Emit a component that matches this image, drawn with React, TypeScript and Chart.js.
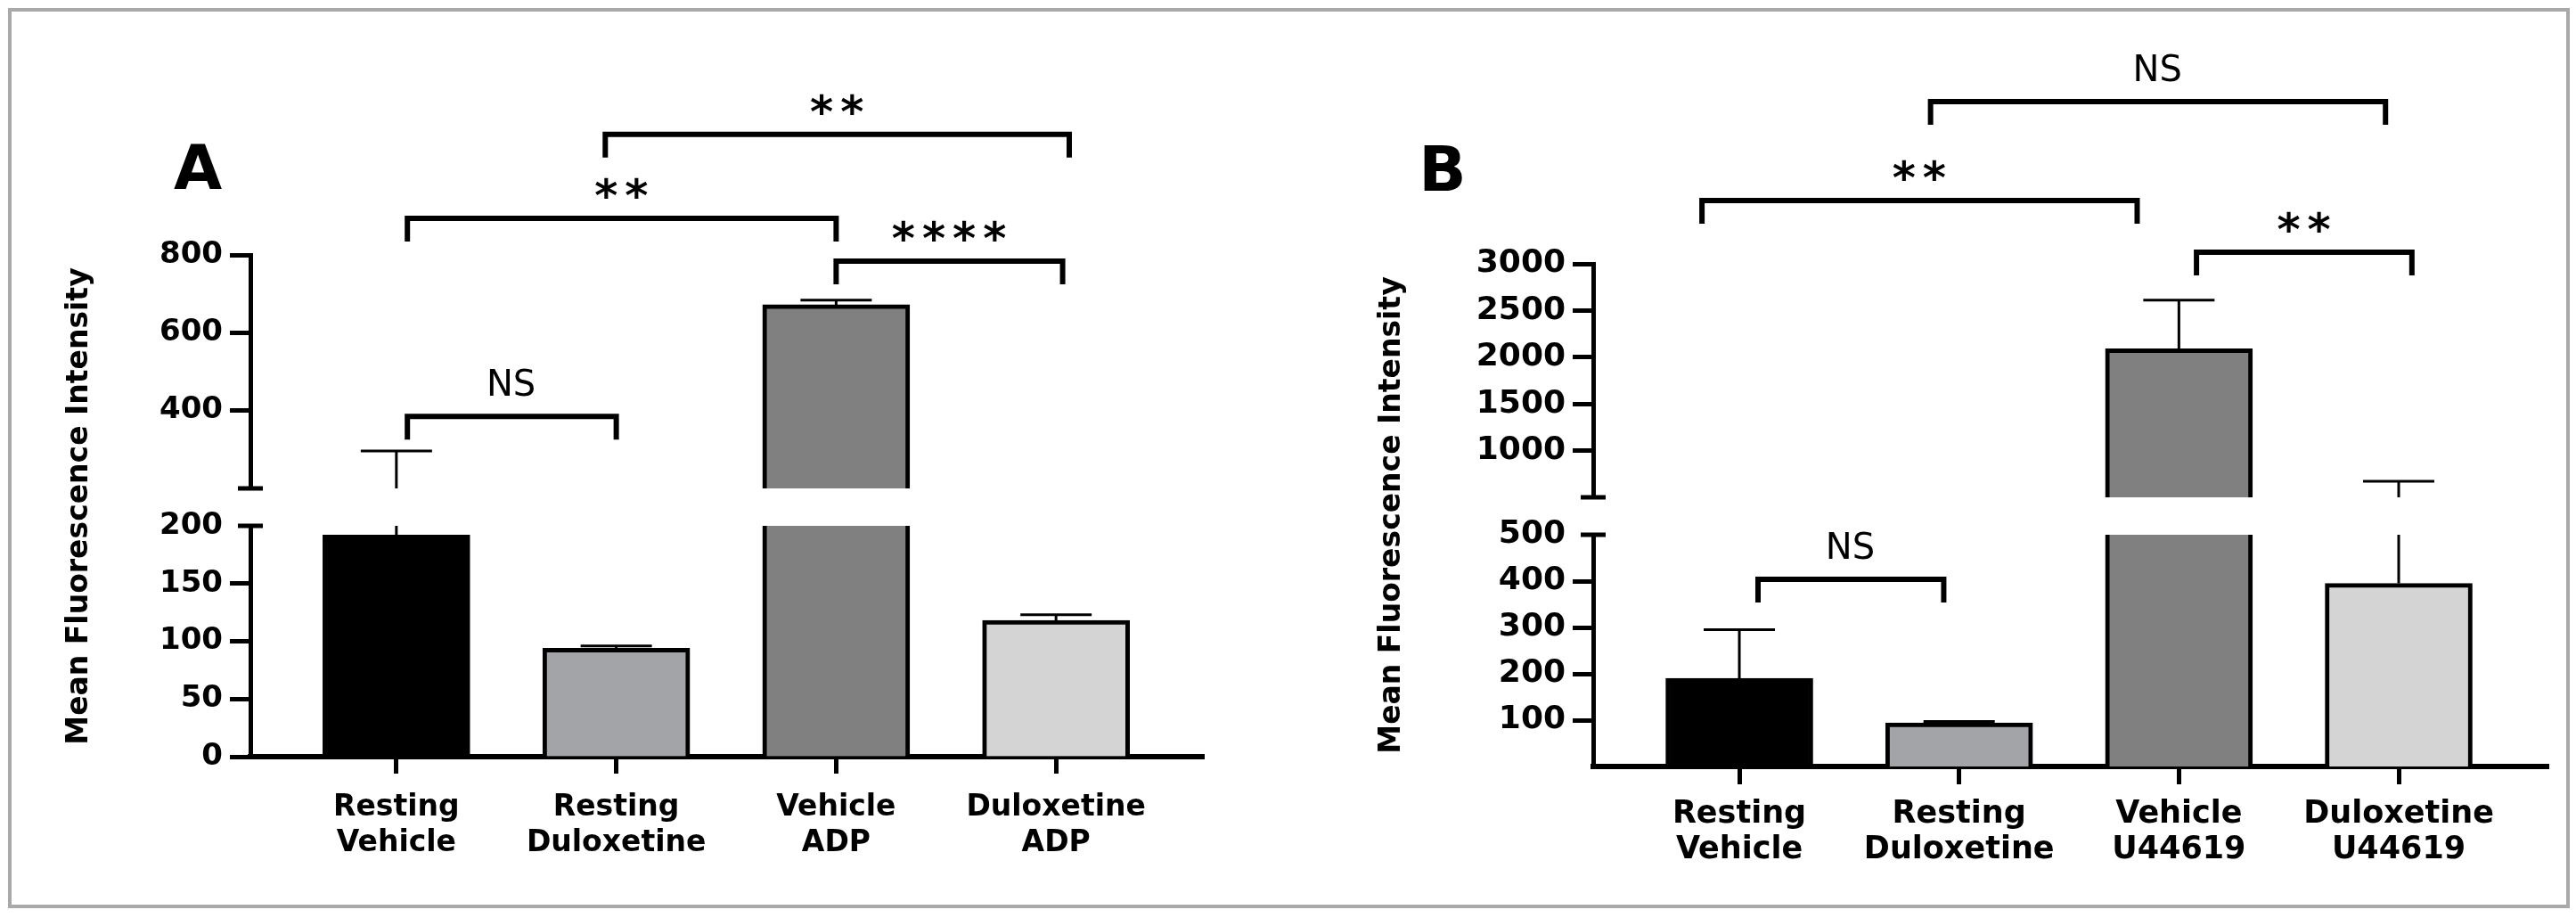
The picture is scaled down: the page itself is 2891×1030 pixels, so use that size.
import React, { useEffect, useRef } from 'react';
import { Chart, registerables } from 'chart.js';

Chart.register(...registerables);

const FONT = "'DejaVu Sans', 'Liberation Sans', Arial, sans-serif";
const PAGE_H = 1030;

// ---------------- Panel A data ----------------
const categoriesA: string[][] = [
  ['Resting', 'Vehicle'],
  ['Resting', 'Duloxetine'],
  ['Vehicle', 'ADP'],
  ['Duloxetine', 'ADP'],
];
const meanA = [192, 94, 672, 118];
const semA = [104, 2, 12, 5];
const lowerTicksA = [0, 50, 100, 150, 200];
const upperTicksA = [400, 600, 800];
const bracketLabelsA = ['**', '**', '****', 'NS'];
const bracketFromA = [0.95, 0.05, 2, 0.05];
const bracketToA = [3.06, 2, 3.03, 1];
const bracketLevelA = [1110, 894, 784, 385];
const bracketSegmentA = ['upper', 'upper', 'upper', 'upper'];

// ---------------- Panel B data ----------------
const categoriesB: string[][] = [
  ['Resting', 'Vehicle'],
  ['Resting', 'Duloxetine'],
  ['Vehicle', 'U44619'],
  ['Duloxetine', 'U44619'],
];
const meanB = [190, 94, 2090, 395];
const semB = [105, 3, 520, 277];
const lowerTicksB = [100, 200, 300, 400, 500];
const upperTicksB = [1000, 1500, 2000, 2500, 3000];
const bracketLabelsB = ['NS', '**', '**', 'NS'];
const bracketFromB = [0.87, -0.17, 2.08, 0.085];
const bracketToB = [2.94, 1.81, 3.06, 0.93];
const bracketLevelB = [4737, 3677, 3124, 404];
const bracketSegmentB = ['upper', 'upper', 'upper', 'lower'];

const barColors = ['#000000', '#a3a4a8', '#808080', '#d4d4d4'];
const yTitle = 'Mean Fluorescence Intensity';

// ---------------- layout (page pixels) ----------------
const layoutA = {
  letter: 'A', letterX: 222, letterY: 186, titleX: 88, titleY: 568,
  canvasLeft: 0, canvasWidth: 1440, axisLeft: 281, plotRight: 1351, yAxisWidth: 120,
  xMin: -0.664, xMax: 3.672,
  upper: { min: 200, max: 800, top: 286, bottom: 548 },
  lower: { min: 0, max: 200, top: 590, bottom: 849 },
  yFont: 34, xFont: 33, xTickLen: 19, xPad: 18,
};
const layoutB = {
  letter: 'B', letterX: 1619, letterY: 188, titleX: 1561, titleY: 578,
  canvasLeft: 1440, canvasWidth: 1451, axisLeft: 1788, plotRight: 2860, yAxisWidth: 140,
  xMin: -0.665, xMax: 3.681,
  upper: { min: 500, max: 3000, top: 296, bottom: 558 },
  lower: { min: 0, max: 500, top: 600, bottom: 860 },
  yFont: 36, xFont: 35, xTickLen: 20, xPad: 14,
};

const panelA = {
  categories: categoriesA, mean: meanA, sem: semA,
  lowerTicks: lowerTicksA, upperTicks: upperTicksA,
  bLabels: bracketLabelsA, bFrom: bracketFromA, bTo: bracketToA, bLevel: bracketLevelA, bSeg: bracketSegmentA,
};
const panelB = {
  categories: categoriesB, mean: meanB, sem: semB,
  lowerTicks: lowerTicksB, upperTicks: upperTicksB,
  bLabels: bracketLabelsB, bFrom: bracketFromB, bTo: bracketToB, bLevel: bracketLevelB, bSeg: bracketSegmentB,
};

function drawTextBottomCentered(ctx: any, text: string, cx: number, bottom: number, font: string, spacing: number) {
  ctx.font = font;
  ctx.letterSpacing = spacing + 'px';
  ctx.textAlign = 'left';
  ctx.textBaseline = 'alphabetic';
  const m = ctx.measureText(text);
  const x = cx - (m.actualBoundingBoxRight - m.actualBoundingBoxLeft) / 2;
  ctx.fillText(text, x, bottom - m.actualBoundingBoxDescent);
  ctx.letterSpacing = '0px';
}

function errorBarPlugin(mean: number[], sem: number[]) {
  return {
    id: 'errorBars',
    afterDatasetsDraw(chart: any) {
      const { ctx, chartArea: a, scales } = chart;
      const xs = scales.x;
      const ys = scales.y;
      ctx.save();
      ctx.beginPath();
      ctx.rect(a.left, a.top, a.right - a.left, a.bottom - a.top);
      ctx.clip();
      ctx.strokeStyle = '#000';
      ctx.lineWidth = 3;
      mean.forEach((m, i) => {
        const px = xs.getPixelForValue(i);
        const y0 = ys.getPixelForValue(m);
        const y1 = ys.getPixelForValue(m + sem[i]);
        ctx.beginPath();
        ctx.moveTo(px, y0);
        ctx.lineTo(px, y1);
        ctx.moveTo(px - 40, y1);
        ctx.lineTo(px + 40, y1);
        ctx.stroke();
      });
      ctx.restore();
    },
  };
}

function decorPlugin(layout: any, panel: any, seg: string) {
  return {
    id: 'decor',
    afterDraw(chart: any) {
      const { ctx, chartArea: a, scales } = chart;
      const xs = scales.x;
      const ys = scales.y;
      ctx.save();
      // axis break mark
      ctx.strokeStyle = '#000';
      ctx.lineWidth = 5;
      const by = seg === 'upper' ? a.bottom : a.top;
      ctx.beginPath();
      ctx.moveTo(a.left - 14, by);
      ctx.lineTo(a.left + 14, by);
      ctx.stroke();

      // significance brackets
      ctx.fillStyle = '#000';
      ctx.lineWidth = 6;
      ctx.lineJoin = 'miter';
      ctx.lineCap = 'butt';
      panel.bLabels.forEach((label: string, i: number) => {
        if (panel.bSeg[i] !== seg) return;
        const x1 = xs.getPixelForValue(panel.bFrom[i]);
        const x2 = xs.getPixelForValue(panel.bTo[i]);
        const yy = ys.getPixelForValue(panel.bLevel[i]);
        ctx.beginPath();
        ctx.moveTo(x1, yy + 26);
        ctx.lineTo(x1, yy);
        ctx.lineTo(x2, yy);
        ctx.lineTo(x2, yy + 26);
        ctx.stroke();
        const stars = /^\*+$/.test(label);
        drawTextBottomCentered(
          ctx, label, (x1 + x2) / 2, yy - 22,
          stars ? `bold 50px ${FONT}` : `40px ${FONT}`,
          stars ? 8 : 0,
        );
      });

      if (seg === 'upper') {
        // panel letter
        ctx.font = `bold 70px ${FONT}`;
        ctx.textAlign = 'center';
        ctx.textBaseline = 'alphabetic';
        const lm = ctx.measureText(layout.letter);
        ctx.fillText(
          layout.letter,
          layout.letterX - layout.canvasLeft,
          layout.letterY + (lm.actualBoundingBoxAscent - lm.actualBoundingBoxDescent) / 2,
        );
        // y axis title
        ctx.font = `bold 33px ${FONT}`;
        const tm = ctx.measureText(yTitle);
        ctx.translate(layout.titleX - layout.canvasLeft, layout.titleY);
        ctx.rotate(-Math.PI / 2);
        ctx.textAlign = 'center';
        ctx.fillText(yTitle, 0, (tm.actualBoundingBoxAscent - tm.actualBoundingBoxDescent) / 2);
      }
      ctx.restore();
    },
  };
}

function makeChart(canvas: HTMLCanvasElement, layout: any, panel: any, seg: 'upper' | 'lower') {
  const s = layout[seg];
  const isLower = seg === 'lower';
  const ticks: number[] = isLower ? panel.lowerTicks : panel.upperTicks;
  const breakValue = layout.lower.max;
  return new Chart(canvas, {
    type: 'bar',
    data: {
      datasets: [
        {
          data: panel.mean.map((v: number, i: number) => ({ x: i, y: v })),
          backgroundColor: barColors,
          borderColor: '#000',
          borderWidth: 5,
          borderSkipped: 'start',
          barThickness: 165,
          clip: 0,
        } as any,
      ],
    },
    options: {
      animation: false,
      responsive: false,
      maintainAspectRatio: false,
      devicePixelRatio: 1,
      events: [],
      layout: {
        padding: {
          left: layout.axisLeft - layout.canvasLeft - layout.yAxisWidth,
          right: layout.canvasLeft + layout.canvasWidth - layout.plotRight,
          top: s.top,
          bottom: isLower ? 0 : PAGE_H - s.bottom,
        },
      },
      plugins: {
        legend: { display: false },
        tooltip: { enabled: false },
        title: { display: false },
      },
      scales: {
        x: {
          type: 'linear',
          min: layout.xMin,
          max: layout.xMax,
          offset: false,
          display: isLower,
          z: 1,
          afterBuildTicks: (sc: any) => {
            sc.ticks = panel.categories.map((_: any, i: number) => ({ value: i }));
          },
          afterFit: (sc: any) => {
            sc.height = isLower ? PAGE_H - s.bottom : 0;
          },
          ticks: {
            callback: (v: any) => panel.categories[v],
            autoSkip: false,
            maxRotation: 0,
            minRotation: 0,
            color: '#000',
            padding: layout.xPad,
            font: { family: FONT, weight: 'bold', size: layout.xFont, lineHeight: 40 / layout.xFont },
          },
          grid: {
            display: true,
            offset: false,
            drawOnChartArea: false,
            drawTicks: true,
            tickLength: layout.xTickLen,
            tickWidth: 5,
            tickColor: '#000',
          },
          border: { display: true, color: '#000', width: 6 },
        } as any,
        y: {
          type: 'linear',
          min: s.min,
          max: s.max,
          afterBuildTicks: (sc: any) => {
            sc.ticks = ticks.map((v) => ({ value: v }));
          },
          afterFit: (sc: any) => {
            sc.width = layout.yAxisWidth;
          },
          ticks: {
            callback: (v: any) => String(v),
            color: '#000',
            padding: 8,
            font: { family: FONT, weight: 'bold', size: layout.yFont },
          },
          grid: {
            display: true,
            drawOnChartArea: false,
            drawTicks: true,
            tickLength: 23,
            tickWidth: 5,
            tickColor: (c: any) => (c.tick && c.tick.value === breakValue ? 'rgba(0,0,0,0)' : '#000'),
          },
          border: { display: true, color: '#000', width: 5 },
        } as any,
      },
    } as any,
    plugins: [errorBarPlugin(panel.mean, panel.sem), decorPlugin(layout, panel, seg)],
  } as any);
}

export default function App() {
  const aUp = useRef<HTMLCanvasElement>(null);
  const aLow = useRef<HTMLCanvasElement>(null);
  const bUp = useRef<HTMLCanvasElement>(null);
  const bLow = useRef<HTMLCanvasElement>(null);

  useEffect(() => {
    document.body.style.margin = '0';
    document.body.style.background = '#ffffff';
    Chart.defaults.font.family = FONT;
    const charts = [
      makeChart(aUp.current!, layoutA, panelA, 'upper'),
      makeChart(aLow.current!, layoutA, panelA, 'lower'),
      makeChart(bUp.current!, layoutB, panelB, 'upper'),
      makeChart(bLow.current!, layoutB, panelB, 'lower'),
    ];
    return () => charts.forEach((c) => c.destroy());
  }, []);

  const cv = (left: number, width: number): React.CSSProperties => ({
    position: 'absolute', left, top: 0, width, height: PAGE_H,
  });

  return (
    <div style={{ position: 'relative', width: 2891, height: PAGE_H, overflow: 'hidden', background: '#fff' }}>
      <div
        style={{
          position: 'absolute', left: 9, top: 9, width: 2875, height: 1010,
          border: '4px solid #a9a9a9', boxSizing: 'border-box',
        }}
      />
      <canvas ref={aUp} width={layoutA.canvasWidth} height={PAGE_H} style={cv(layoutA.canvasLeft, layoutA.canvasWidth)} />
      <canvas ref={aLow} width={layoutA.canvasWidth} height={PAGE_H} style={cv(layoutA.canvasLeft, layoutA.canvasWidth)} />
      <canvas ref={bUp} width={layoutB.canvasWidth} height={PAGE_H} style={cv(layoutB.canvasLeft, layoutB.canvasWidth)} />
      <canvas ref={bLow} width={layoutB.canvasWidth} height={PAGE_H} style={cv(layoutB.canvasLeft, layoutB.canvasWidth)} />
    </div>
  );
}
